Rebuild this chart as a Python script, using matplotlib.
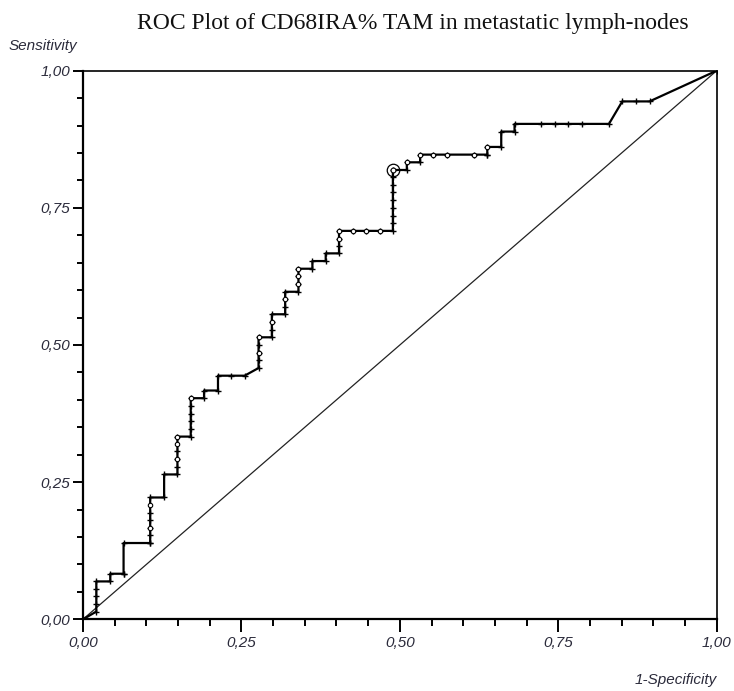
import matplotlib
matplotlib.use("Agg")
import matplotlib.pyplot as plt
from matplotlib.ticker import MultipleLocator, FixedLocator, FixedFormatter

# ROC curve vertices (1-specificity, sensitivity)
roc_fpr = [0.000, 0.021, 0.021, 0.043, 0.043, 0.064, 0.064, 0.106, 0.106, 0.128,
           0.128, 0.149, 0.149, 0.170, 0.170, 0.191, 0.191, 0.213, 0.213, 0.255,
           0.277, 0.277, 0.298, 0.298, 0.319, 0.319, 0.340, 0.340, 0.362, 0.362,
           0.383, 0.383, 0.404, 0.404, 0.489, 0.489, 0.511, 0.511, 0.532, 0.532,
           0.638, 0.638, 0.660, 0.660, 0.681, 0.681, 0.830, 0.851, 0.894, 1.000]
roc_tpr = [0.000, 0.014, 0.069, 0.069, 0.083, 0.083, 0.139, 0.139, 0.222, 0.222,
           0.264, 0.264, 0.333, 0.333, 0.403, 0.403, 0.417, 0.417, 0.444, 0.444,
           0.458, 0.514, 0.514, 0.556, 0.556, 0.597, 0.597, 0.639, 0.639, 0.653,
           0.653, 0.667, 0.667, 0.708, 0.708, 0.819, 0.819, 0.833, 0.833, 0.847,
           0.847, 0.861, 0.861, 0.889, 0.889, 0.903, 0.903, 0.944, 0.944, 1.000]

# intermediate cut-off points lying on tied runs
cut_fpr = [0.021, 0.021, 0.021, 0.106, 0.106, 0.106, 0.106, 0.149, 0.149, 0.149,
           0.170, 0.170, 0.170, 0.170, 0.277, 0.277, 0.277, 0.298, 0.298, 0.319,
           0.319, 0.340, 0.340, 0.404, 0.404, 0.489, 0.489, 0.489, 0.489, 0.489,
           0.489, 0.489, 0.638, 0.064, 0.234, 0.106, 0.426, 0.447, 0.468, 0.723,
           0.745, 0.766, 0.787, 0.872, 0.553, 0.574, 0.617]
cut_tpr = [0.028, 0.042, 0.056, 0.153, 0.167, 0.181, 0.194, 0.278, 0.292, 0.306,
           0.347, 0.361, 0.375, 0.389, 0.472, 0.486, 0.500, 0.528, 0.542, 0.569,
           0.583, 0.611, 0.625, 0.681, 0.694, 0.722, 0.736, 0.750, 0.764, 0.778,
           0.792, 0.806, 0.847, 0.083, 0.444, 0.139, 0.708, 0.708, 0.708, 0.903,
           0.903, 0.903, 0.903, 0.944, 0.847, 0.847, 0.847]

# cut-off points drawn as open circles
open_fpr = [0.106, 0.106, 0.149, 0.149, 0.149, 0.170, 0.277, 0.277, 0.298, 0.319,
            0.340, 0.340, 0.340, 0.404, 0.404, 0.426, 0.447, 0.468, 0.511, 0.532,
            0.553, 0.574, 0.617, 0.638]
open_tpr = [0.167, 0.208, 0.292, 0.319, 0.333, 0.403, 0.486, 0.514, 0.542, 0.583,
            0.611, 0.625, 0.639, 0.694, 0.708, 0.708, 0.708, 0.708, 0.833, 0.847,
            0.847, 0.847, 0.847, 0.861]

# optimal cut-off point
opt_fpr = [0.489]
opt_tpr = [0.819]

ticks = [0.0, 0.25, 0.5, 0.75, 1.0]
tick_labels = ["0,00", "0,25", "0,50", "0,75", "1,00"]

fig = plt.figure(figsize=(7.34, 6.91), dpi=100)
ax = fig.add_axes([0.1131, 0.1038, 0.8633, 0.7939])

ax.plot([0, 1], [0, 1], color="#222222", lw=0.9, zorder=2)
ax.plot(roc_fpr, roc_tpr, color="black", lw=1.6, marker="+", ms=4.5, mew=1.0,
        zorder=3)
ax.plot(cut_fpr, cut_tpr, ls="none", marker="+", ms=4.0, mew=1.0,
        color="black", zorder=4)
ax.plot(open_fpr, open_tpr, ls="none", marker="o", ms=3.2, mew=0.8,
        mfc="white", mec="black", zorder=5)
ax.plot(opt_fpr, opt_tpr, ls="none", marker="o", ms=9, mew=0.9,
        mfc="none", mec="black", zorder=6)
ax.plot(opt_fpr, opt_tpr, ls="none", marker="o", ms=3.5, mew=0.8,
        mfc="white", mec="black", zorder=7)

ax.set_xlim(0, 1)
ax.set_ylim(0, 1)

lab_color = "#2b2b3b"
tick_font = dict(family="Liberation Sans", style="italic", size=11, color=lab_color)
ax.xaxis.set_major_locator(FixedLocator(ticks))
ax.yaxis.set_major_locator(FixedLocator(ticks))
ax.xaxis.set_major_formatter(FixedFormatter(tick_labels))
ax.yaxis.set_major_formatter(FixedFormatter(tick_labels))
ax.xaxis.set_minor_locator(MultipleLocator(0.05))
ax.yaxis.set_minor_locator(MultipleLocator(0.05))
for lbl in ax.get_xticklabels() + ax.get_yticklabels():
    lbl.set_fontfamily("Liberation Sans")
    lbl.set_fontstyle("italic")
    lbl.set_fontsize(11)
    lbl.set_color(lab_color)

ax.tick_params(axis="x", which="major", direction="out", length=9, width=1.4, pad=3)
ax.tick_params(axis="x", which="minor", direction="out", length=5, width=1.4)
ax.tick_params(axis="y", which="major", direction="out", length=7, width=1.4, pad=2)
ax.tick_params(axis="y", which="minor", direction="out", length=4, width=1.4)
ax.tick_params(top=False, right=False, which="both")

for side in ("left", "bottom"):
    ax.spines[side].set_linewidth(1.6)
for side in ("top", "right"):
    ax.spines[side].set_linewidth(1.2)

fig.text(0.562, 0.966, "ROC Plot of CD68IRA% TAM in metastatic lymph-nodes",
         family="Liberation Serif", size=17, ha="center", va="center",
         color="#111111")
fig.text(0.012, 0.934, "Sensitivity", ha="left", va="center", **tick_font)
fig.text(0.976, 0.016, "1-Specificity", ha="right", va="center", **tick_font)

fig.savefig("out.png", dpi=100)
